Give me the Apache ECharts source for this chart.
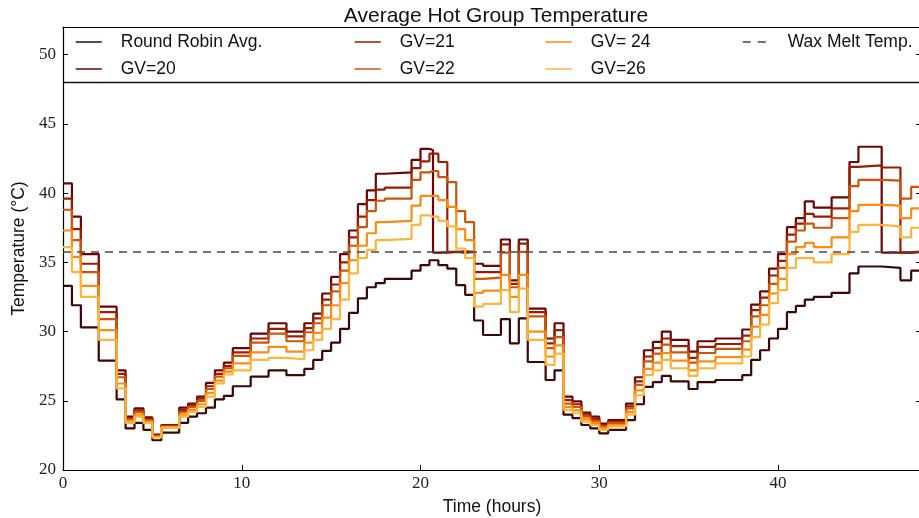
<!DOCTYPE html>
<html>
<head>
<meta charset="utf-8">
<script src="https://cdn.jsdelivr.net/npm/echarts@6.0.0/dist/echarts.min.js"></script>
<style>
  html, body { margin: 0; padding: 0; background: #fff; overflow: hidden; }
  #chart { width: 919px; height: 518px; }
</style>
</head>
<body>
<div id="chart"></div>
<script>
// step start times (hours), shared by every series
const hours = [
  0, 0.5, 1, 2, 3, 3.5, 4, 4.5, 5, 5.5,
  6.5, 7, 7.5, 8, 8.5, 9, 9.5, 10.5, 11.5, 12.5,
  13.5, 14, 14.5, 15, 15.5, 16, 16.5, 17, 17.5, 18,
  19.5, 20, 20.5, 20.7, 21, 21.5, 22, 22.5, 23, 23.5,
  24.5, 25, 25.5, 26, 27, 27.5, 28, 28.5, 29, 29.5,
  30, 30.5, 31.5, 32, 32.5, 33, 33.5, 34, 35, 35.5,
  36.5, 38, 38.5, 39, 39.5, 40, 40.5, 41, 41.5, 42,
  43, 44, 44.5, 45.8, 46.85, 47.45, 48
];

const roundRobin = [
  33.3, 31.9, 30.3, 27.9, 25.1, 23.0, 23.4, 22.9, 22.15, 22.7,
  23.4, 23.85, 24.1, 24.5, 25.1, 25.35, 26.05, 26.75, 27.2, 26.85,
  27.3, 27.95, 28.6, 29.2, 30.2, 31.35, 32.4, 33.2, 33.5, 33.8,
  34.4, 34.8, 35.15, 35.15, 34.8, 34.55, 33.35, 32.65, 30.8, 29.75,
  30.9, 29.15, 30.95, 27.8, 26.5, 27.2, 24.0, 23.75, 23.25, 23.0,
  22.65, 22.9, 23.6, 24.75, 26.0, 26.35, 26.8, 26.4, 25.85, 26.35,
  26.5, 26.85, 27.95, 28.65, 29.5, 30.2, 31.4, 31.85, 32.3, 32.5,
  32.8, 34.2, 34.7, 34.6, 33.7, 34.4, 34.4
];
const gv20 = [
  40.7, 38.3, 35.6, 31.8, 27.2, 23.85, 24.45, 23.8, 22.55, 23.25,
  24.5, 24.8, 25.3, 26.3, 27.2, 27.75, 28.8, 29.85, 30.6, 30.0,
  30.6, 31.3, 32.75, 33.95, 35.6, 37.3, 39.2, 40.2, 41.4, 41.5,
  42.4, 43.2, 43.1, 35.7, 35.7, 35.75, 35.7, 35.75, 34.9, 34.75,
  36.65, 33.7, 36.65, 31.65, 29.5, 30.6, 25.3, 24.95, 24.15, 23.85,
  23.35, 23.6, 24.8, 26.7, 28.65, 29.25, 30.0, 29.4, 28.55, 29.3,
  29.5, 30.15, 31.95, 32.9, 34.55, 35.6, 37.55, 38.2, 39.4, 38.95,
  39.7, 42.25, 43.35, 35.7, 35.7, 35.75, 35.75
];
const gv21 = [
  39.6, 37.4, 34.9, 31.4, 26.95, 23.75, 24.3, 23.7, 22.5, 23.2,
  24.35, 24.65, 25.15, 26.05, 26.95, 27.5, 28.5, 29.5, 30.2, 29.65,
  30.25, 30.95, 32.3, 33.4, 35.0, 36.8, 38.3, 39.5, 40.25, 40.4,
  41.8, 42.3, 42.85, 42.85, 42.25, 35.75, 35.8, 35.75, 34.3, 34.3,
  36.3, 33.45, 36.35, 31.4, 29.15, 30.1, 25.05, 24.75, 24.0, 23.7,
  23.25, 23.5, 24.6, 26.4, 28.2, 28.8, 29.5, 28.95, 28.1, 28.9,
  29.1, 29.7, 31.55, 32.45, 34.05, 35.1, 37.0, 37.8, 38.5, 38.3,
  38.9, 41.9, 42.0, 41.85, 35.7, 35.8, 35.8
];
const gv22 = [
  38.8, 36.6, 34.3, 30.9, 26.7, 23.65, 24.2, 23.6, 22.45, 23.15,
  24.2, 24.55, 25.0, 25.85, 26.75, 27.35, 28.25, 29.2, 29.85, 29.3,
  29.95, 30.6, 31.9, 32.9, 34.4, 36.2, 37.55, 38.7, 39.45, 39.6,
  40.95, 41.5, 41.6, 41.6, 41.15, 40.8, 38.7, 37.9, 33.8, 33.9,
  35.7, 33.2, 35.75, 31.1, 28.8, 29.6, 24.8, 24.55, 23.85, 23.55,
  23.15, 23.4, 24.45, 26.15, 27.85, 28.4, 29.05, 28.5, 27.75, 28.45,
  28.75, 29.3, 31.1, 31.9, 33.45, 34.6, 36.5, 37.3, 37.8, 37.5,
  38.2, 40.5, 40.95, 40.9, 39.6, 40.45, 40.45
];
const gv24 = [
  37.3, 35.4, 33.3, 30.1, 26.25, 23.5, 24.0, 23.5, 22.4, 23.1,
  24.0, 24.35, 24.75, 25.55, 26.45, 27.1, 27.7, 28.5, 28.9, 28.55,
  29.2, 29.9, 31.0, 31.9, 33.5, 35.15, 36.2, 37.1, 37.9, 38.0,
  39.1, 39.8, 39.8, 39.8, 39.5, 39.0, 37.4, 36.6, 32.8, 32.95,
  34.1, 32.5, 34.1, 30.0, 28.2, 29.0, 24.55, 24.3, 23.65, 23.4,
  23.0, 23.25, 24.2, 25.75, 27.3, 27.75, 28.45, 27.9, 27.2, 27.85,
  28.15, 28.7, 30.35, 31.2, 32.75, 33.8, 35.6, 36.1, 36.4, 36.1,
  36.8, 38.7, 39.15, 39.1, 38.2, 38.9, 38.9
];
const gv26 = [
  36.1, 34.3, 32.5, 29.4, 25.9, 23.4, 23.85, 23.4, 22.35, 23.05,
  23.85, 24.2, 24.55, 25.3, 26.25, 26.9, 27.2, 27.95, 28.1, 28.0,
  28.65, 29.4, 30.2, 30.9, 32.3, 34.2, 35.3, 35.9, 36.6, 36.7,
  37.7, 38.4, 38.3, 38.3, 38.0, 37.6, 36.0, 35.3, 31.8, 32.0,
  33.0, 31.4, 33.1, 29.4, 27.6, 28.4, 24.35, 24.1, 23.5, 23.25,
  22.9, 23.15, 24.0, 25.4, 26.85, 27.2, 27.95, 27.35, 26.8, 27.35,
  27.7, 28.2, 29.6, 30.5, 32.05, 33.0, 34.6, 35.3, 35.3, 35.0,
  35.6, 37.2, 37.7, 37.6, 36.8, 37.5, 37.5
];
const waxMelt = 35.8;
const legendTop = 48; // bottom edge of legend box, in degrees

const seriesNames = ['Round Robin Avg.', 'GV=20', 'GV=21', 'GV=22', 'GV= 24', 'GV=26'];
const seriesValues = [roundRobin, gv20, gv21, gv22, gv24, gv26];
const colors = ['#3a0606', '#6a0505', '#9c1c02', '#d0530a', '#ff8a10', '#ffb43c'];

const sans = 'Liberation Sans, Arial, sans-serif';
const serif = 'Liberation Serif, Times New Roman, serif';

const chart = echarts.init(document.getElementById('chart'), null, { renderer: 'canvas' });

const lineSeries = seriesValues.map((vals, i) => ({
  name: seriesNames[i],
  type: 'line',
  step: 'end',
  symbol: 'none',
  data: hours.map((h, j) => [h, vals[j]]),
  lineStyle: { width: 2.2, color: colors[i] },
  itemStyle: { color: colors[i] }
}));

lineSeries.push({
  name: 'Wax Melt Temp.',
  type: 'line',
  symbol: 'none',
  data: [],
  z: 5,
  lineStyle: { width: 1.5, color: '#444', type: [8, 7] },
  itemStyle: { color: '#444' },
  markLine: {
    silent: true,
    symbol: 'none',
    label: { show: false },
    lineStyle: { width: 1.5, color: '#4a4a4a', type: [8, 6] },
    data: [{ yAxis: waxMelt }]
  }
});

// matplotlib-like legend: plain line samples, no marker
const legendBase = {
  orient: 'vertical',
  top: 33,
  padding: 0,
  itemWidth: 26,
  itemHeight: 14,
  itemGap: 9,
  selectedMode: false,
  itemStyle: { color: 'rgba(0,0,0,0)', borderWidth: 0, opacity: 0 },
  lineStyle: { width: 1.5 },
  textStyle: { fontFamily: sans, fontSize: 17.5, color: '#111', padding: [0, 0, 0, 14] }
};

chart.setOption({
  animation: false,
  title: {
    text: 'Average Hot Group Temperature',
    left: 491,
    textAlign: 'center',
    top: 1,
    textStyle: { fontFamily: sans, fontSize: 21, fontWeight: 'normal', color: '#111' }
  },
  legend: [
    Object.assign({}, legendBase, { left: 75, data: seriesNames.slice(0, 2) }),
    Object.assign({}, legendBase, { left: 354, data: seriesNames.slice(2, 4) }),
    Object.assign({}, legendBase, { left: 545, data: seriesNames.slice(4, 6) }),
    Object.assign({}, legendBase, { left: 742, data: ['Wax Melt Temp.'] })
  ],
  grid: { left: 63, right: -2, top: 27, bottom: 48, containLabel: false, outerBoundsMode: 'none' },
  xAxis: [{
    type: 'value',
    min: 0,
    max: 48,
    interval: 10,
    name: 'Time (hours)',
    nameLocation: 'middle',
    nameGap: 28,
    nameTextStyle: { fontFamily: sans, fontSize: 17.5, color: '#111' },
    axisLine: { onZero: false, lineStyle: { color: '#000', width: 1.2 } },
    axisTick: { inside: true, length: 5, lineStyle: { color: '#000' } },
    axisLabel: { fontFamily: serif, fontSize: 17, color: '#222', margin: 5, showMaxLabel: false },
    splitLine: { show: false }
  }, {
    type: 'value',
    position: 'top',
    min: 0,
    max: 48,
    axisLine: { show: true, onZero: false, lineStyle: { color: '#000', width: 1.2 } },
    axisTick: { show: false },
    axisLabel: { show: false },
    splitLine: { show: false }
  }],
  yAxis: [{
    type: 'value',
    min: 20,
    max: 52,
    interval: 5,
    name: 'Temperature (°C)',
    nameLocation: 'middle',
    nameRotate: 90,
    nameGap: 32,
    nameTextStyle: { fontFamily: sans, fontSize: 17.5, color: '#111' },
    axisLine: { show: true, onZero: false, lineStyle: { color: '#000', width: 1.2 } },
    axisTick: { show: true, inside: true, length: 5, lineStyle: { color: '#000' } },
    axisLabel: { fontFamily: serif, fontSize: 17, color: '#222', margin: 7, showMaxLabel: false },
    splitLine: { show: false }
  }, {
    type: 'value',
    position: 'right',
    min: 20,
    max: 52,
    interval: 5,
    axisLine: { show: true, onZero: false, lineStyle: { color: '#000', width: 1.2 } },
    axisTick: { show: true, inside: true, length: 5, lineStyle: { color: '#000' } },
    axisLabel: { show: false },
    splitLine: { show: false }
  }],
  series: lineSeries
});

// legend frame: bottom edge of the box at y = legendTop
const boxBottom = chart.convertToPixel({ yAxisIndex: 0 }, legendTop);
chart.setOption({
  graphic: [{
    type: 'line',
    z: 10,
    shape: { x1: 63, y1: boxBottom, x2: 921, y2: boxBottom },
    style: { stroke: '#111', lineWidth: 1.5 }
  }]
});
</script>
</body>
</html>
